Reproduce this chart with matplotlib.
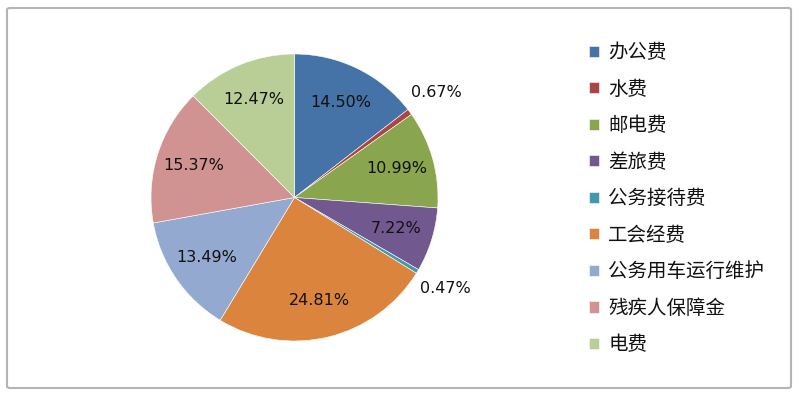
import numpy as np
import matplotlib
matplotlib.use("Agg")
import matplotlib.pyplot as plt
from matplotlib.patches import FancyBboxPatch

plt.rcParams['font.family'] = ['DejaVu Sans', 'Noto Sans CJK SC']

# 数据
categories = ["办公费", "水费", "邮电费", "差旅费", "公务接待费",
              "工会经费", "公务用车运行维护", "残疾人保障金", "电费"]
shares = [14.50, 0.67, 10.99, 7.22, 0.47, 24.81, 13.49, 15.37, 12.47]
colors = ['#4572A7', '#AA4643', '#89A54E', '#71588F', '#4198AF',
          '#DB843D', '#93A9CF', '#D19392', '#B9CD96']

fig = plt.figure(figsize=(8, 3.95), dpi=100)

# 外框
frame = FancyBboxPatch((7 / 800, 7 / 395), 784 / 800, 380 / 395,
                       boxstyle="round,pad=0,rounding_size=0.004",
                       transform=fig.transFigure, facecolor='none',
                       edgecolor='#b4b4b4', linewidth=1.5, zorder=0)
fig.patches.append(frame)

ax = fig.add_axes([151 / 800, 54 / 395, 287 / 800, 287 / 395])
wedges, _ = ax.pie(shares, colors=colors, startangle=90, counterclock=False,
                   wedgeprops=dict(edgecolor='white', linewidth=0.4))
ax.set_xlim(-1, 1)
ax.set_ylim(-1, 1)
ax.set_aspect('equal')
ax.axis('off')

# 百分比标签
for w, v in zip(wedges, shares):
    ang = np.deg2rad((w.theta1 + w.theta2) / 2)
    d = 0.74 if v > 2 else 1.23
    ax.text(d * np.cos(ang), d * np.sin(ang), f"{v:.2f}%",
            ha='center', va='center', fontsize=11.5, color='#111111')

leg = ax.legend(wedges, categories, loc='upper left',
                bbox_to_anchor=(589 / 800, 1 - 42 / 395),
                bbox_transform=fig.transFigure, frameon=False,
                prop={'family': ['Noto Sans CJK SC'], 'size': 14},
                handlelength=0.5, handleheight=0.5, handletextpad=0.5,
                labelspacing=0.80, borderpad=0, borderaxespad=0)
for t in leg.get_texts():
    t.set_color('#111111')

fig.savefig('out.png', dpi=100)
